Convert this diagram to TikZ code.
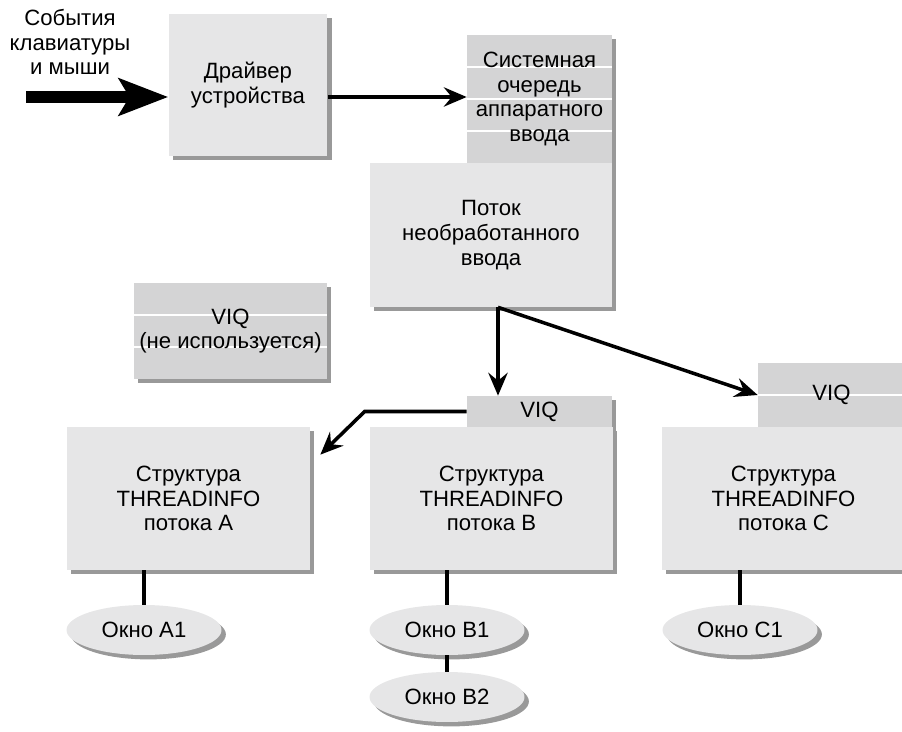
\documentclass[tikz,border=0pt]{standalone}
\usepackage{fontspec}
\setmainfont{Liberation Sans}
\usepackage{xcolor}
\usetikzlibrary{positioning,arrows.meta,calc,shapes.geometric,shadows}
\definecolor{boxgray}{HTML}{E6E6E7}
\definecolor{stripegray}{HTML}{D4D4D5}

\begin{document}
\begin{tikzpicture}[x=0.02cm,y=-0.02cm,
		font=\fontsize{12.6}{14}\selectfont,
		box/.style={fill=boxgray,align=center,inner sep=0pt,
			drop shadow={shadow xshift=2.5pt,shadow yshift=-2.5pt,opacity=.4,fill=black}},
		stripebox/.style={box,fill=stripegray},
		stripes/.style={stripebox,path picture={
				\foreach \k in {1,...,#1}
				\draw[white,line width=1.6pt]
				($(path picture bounding box.north west)!{\k/(#1+1)}!(path picture bounding box.south west)$) -- ++(10cm,0);}},
		win/.style={ellipse,fill=boxgray,inner sep=0pt,minimum width=3.1cm,minimum height=1cm,
			drop shadow={shadow xshift=2.5pt,shadow yshift=-2.5pt,opacity=.4,fill=black}},
		conn/.style={line width=2pt,-{Stealth[length=13pt,width=11pt,inset=4.5pt]}},
		link/.style={line width=1.8pt},
		bigarrow/.style={line width=6.3pt,-{Stealth[length=28pt,width=21pt,inset=6pt]}}]
		
		\useasboundingbox (0,0) rectangle (902,732);
		
		\node[align=center] (evt) at (70,42) {События\\клавиатуры\\и мыши};
		
		\node[box,minimum width=3.18cm,minimum height=2.84cm] (driver) at (248,85) {Драйвер\\устройства};
		\node[stripes=3,minimum width=2.9cm,minimum height=2.56cm] (queue) at (539.5,99)
		{Системная\\очередь\\аппаратного\\ввода};
		\node[box,minimum width=4.84cm,minimum height=2.88cm] (raw) at (491,235)
		{Поток\\необработанного\\ввода};
		
		\node[stripes=2,minimum width=3.86cm,minimum height=1.92cm] (unused) at (230.5,331)
		{VIQ\\(не используется)};
		
		\node[stripebox,minimum width=2.9cm,minimum height=0.62cm] (vqB) at (539.5,411.5) {VIQ};
		\node[stripes=1,minimum width=2.94cm,minimum height=1.28cm] (vqC) at (831.5,395) {VIQ};
		
		\node[box,minimum width=4.86cm,minimum height=2.86cm] (thrA) at (188.5,498.5)
		{Структура\\THREADINFO\\потока A};
		\node[box,minimum width=4.86cm,minimum height=2.86cm] (thrB) at (491.5,498.5)
		{Структура\\THREADINFO\\потока B};
		\node[box,minimum width=4.86cm,minimum height=2.86cm] (thrC) at (783.5,498.5)
		{Структура\\THREADINFO\\потока C};
		
		\node[win] (winA1) at (144,630) {Окно A1};
		\node[win] (winB1) at (447,630) {Окно B1};
		\node[win] (winB2) at (447,697) {Окно B2};
		\node[win] (winC1) at (740,630) {Окно C1};
		
		\coordinate (inStart) at (26,97);
		\coordinate (fork) at ($(raw.south)+(7,0)$);
		\coordinate (aTip) at ($(thrA.north east)+(10,28)$);
		
		\draw[bigarrow] (inStart) -- (inStart -| driver.west);
		\draw[conn] (driver.east |- inStart) -- (queue.west |- inStart);
		
		\draw[conn] (fork) -- (fork |- vqB.north);
		\draw[conn] (fork) -- (vqC.west);
		\draw[conn] (vqB.west) -- ++(-102,0) -- (aTip);
		
		\draw[link] (thrA.south -| winA1) -- (winA1.north);
		\draw[link] (thrB.south -| winB1) -- (winB1.north);
		\draw[link] (winB1.south) -- (winB2.north);
		\draw[link] (thrC.south -| winC1) -- (winC1.north);
		
	\end{tikzpicture}
\end{document}
